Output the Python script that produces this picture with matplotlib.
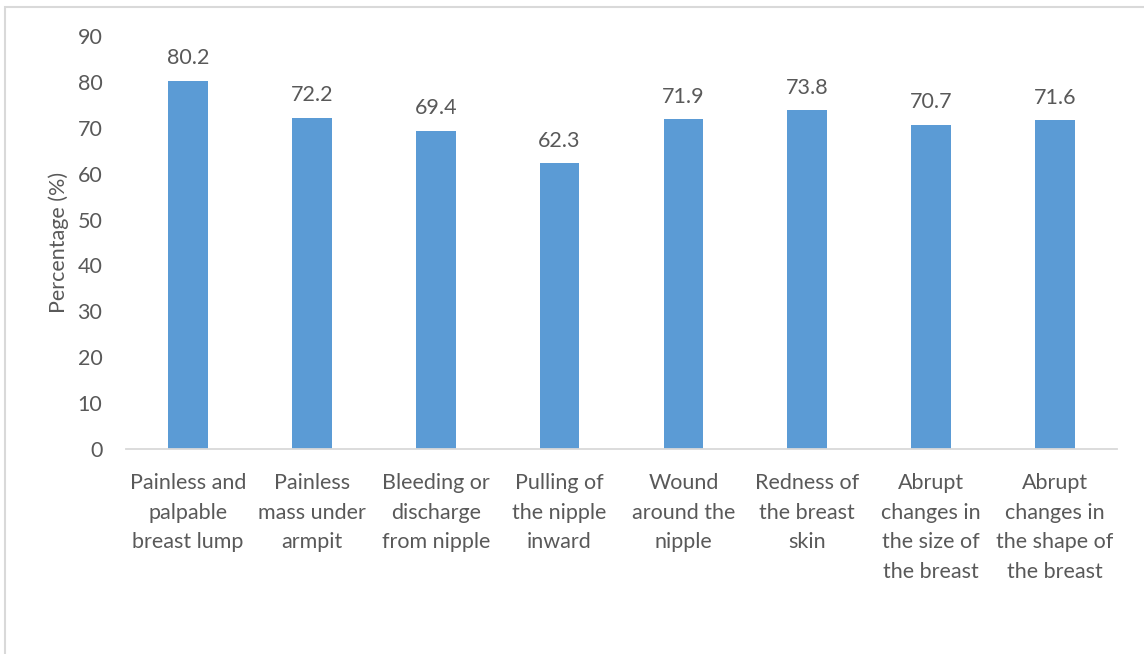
import matplotlib.pyplot as plt
from matplotlib.patches import Rectangle

# symptom categories and share of respondents (%)
categories = [
    "Painless and\npalpable\nbreast lump",
    "Painless\nmass under\narmpit",
    "Bleeding or\ndischarge\nfrom nipple",
    "Pulling of\nthe nipple\ninward",
    "Wound\naround the\nnipple",
    "Redness of\nthe breast\nskin",
    "Abrupt\nchanges in\nthe size of\nthe breast",
    "Abrupt\nchanges in\nthe shape of\nthe breast",
]
percentages = [80.2, 72.2, 69.4, 62.3, 71.9, 73.8, 70.7, 71.6]
yticks = [0, 10, 20, 30, 40, 50, 60, 70, 80, 90]

plt.rcParams['font.family'] = ['Lato', 'DejaVu Sans']
text_col = '#595959'
fs = 15.5

W, H = 1144, 654
fig = plt.figure(figsize=(W / 100, H / 100), dpi=100)
ax = fig.add_axes([126 / W, 1 - 449 / H, (1117 - 126) / W, (449 - 36) / H])

x = range(len(categories))
bars = ax.bar(x, percentages, width=0.32, color='#5B9BD5')

for b, v in zip(bars, percentages):
    ax.annotate(f"{v:.1f}", (b.get_x() + b.get_width() / 2, v),
                xytext=(0, 9), textcoords='offset points',
                ha='center', va='bottom', fontsize=fs, color=text_col)

ax.set_xlim(-0.5, len(categories) - 0.5)
ax.set_ylim(0, 90)
ax.set_yticks(yticks)
ax.set_xticks(list(x))
ax.set_xticklabels(categories, fontsize=fs, color=text_col, linespacing=1.62)
ax.tick_params(axis='y', labelsize=fs, labelcolor=text_col, length=0, pad=17)
ax.tick_params(axis='x', length=0, pad=17)

for s in ['top', 'right', 'left']:
    ax.spines[s].set_visible(False)
ax.spines['bottom'].set_color('#D9D9D9')
ax.spines['bottom'].set_linewidth(1.3)

ax.set_ylabel("Percentage (%)", fontsize=fs, color=text_col)
ax.yaxis.set_label_coords(-(126 - 69) / (1117 - 126), 0.5)

# outer frame of the chart area
fig.patches.append(Rectangle((5 / W, -0.1), 1.2, 1 - 7 / H + 0.1,
                             transform=fig.transFigure, fill=False,
                             edgecolor='#D9D9D9', linewidth=1.5))

fig.savefig("out.png", dpi=100)
